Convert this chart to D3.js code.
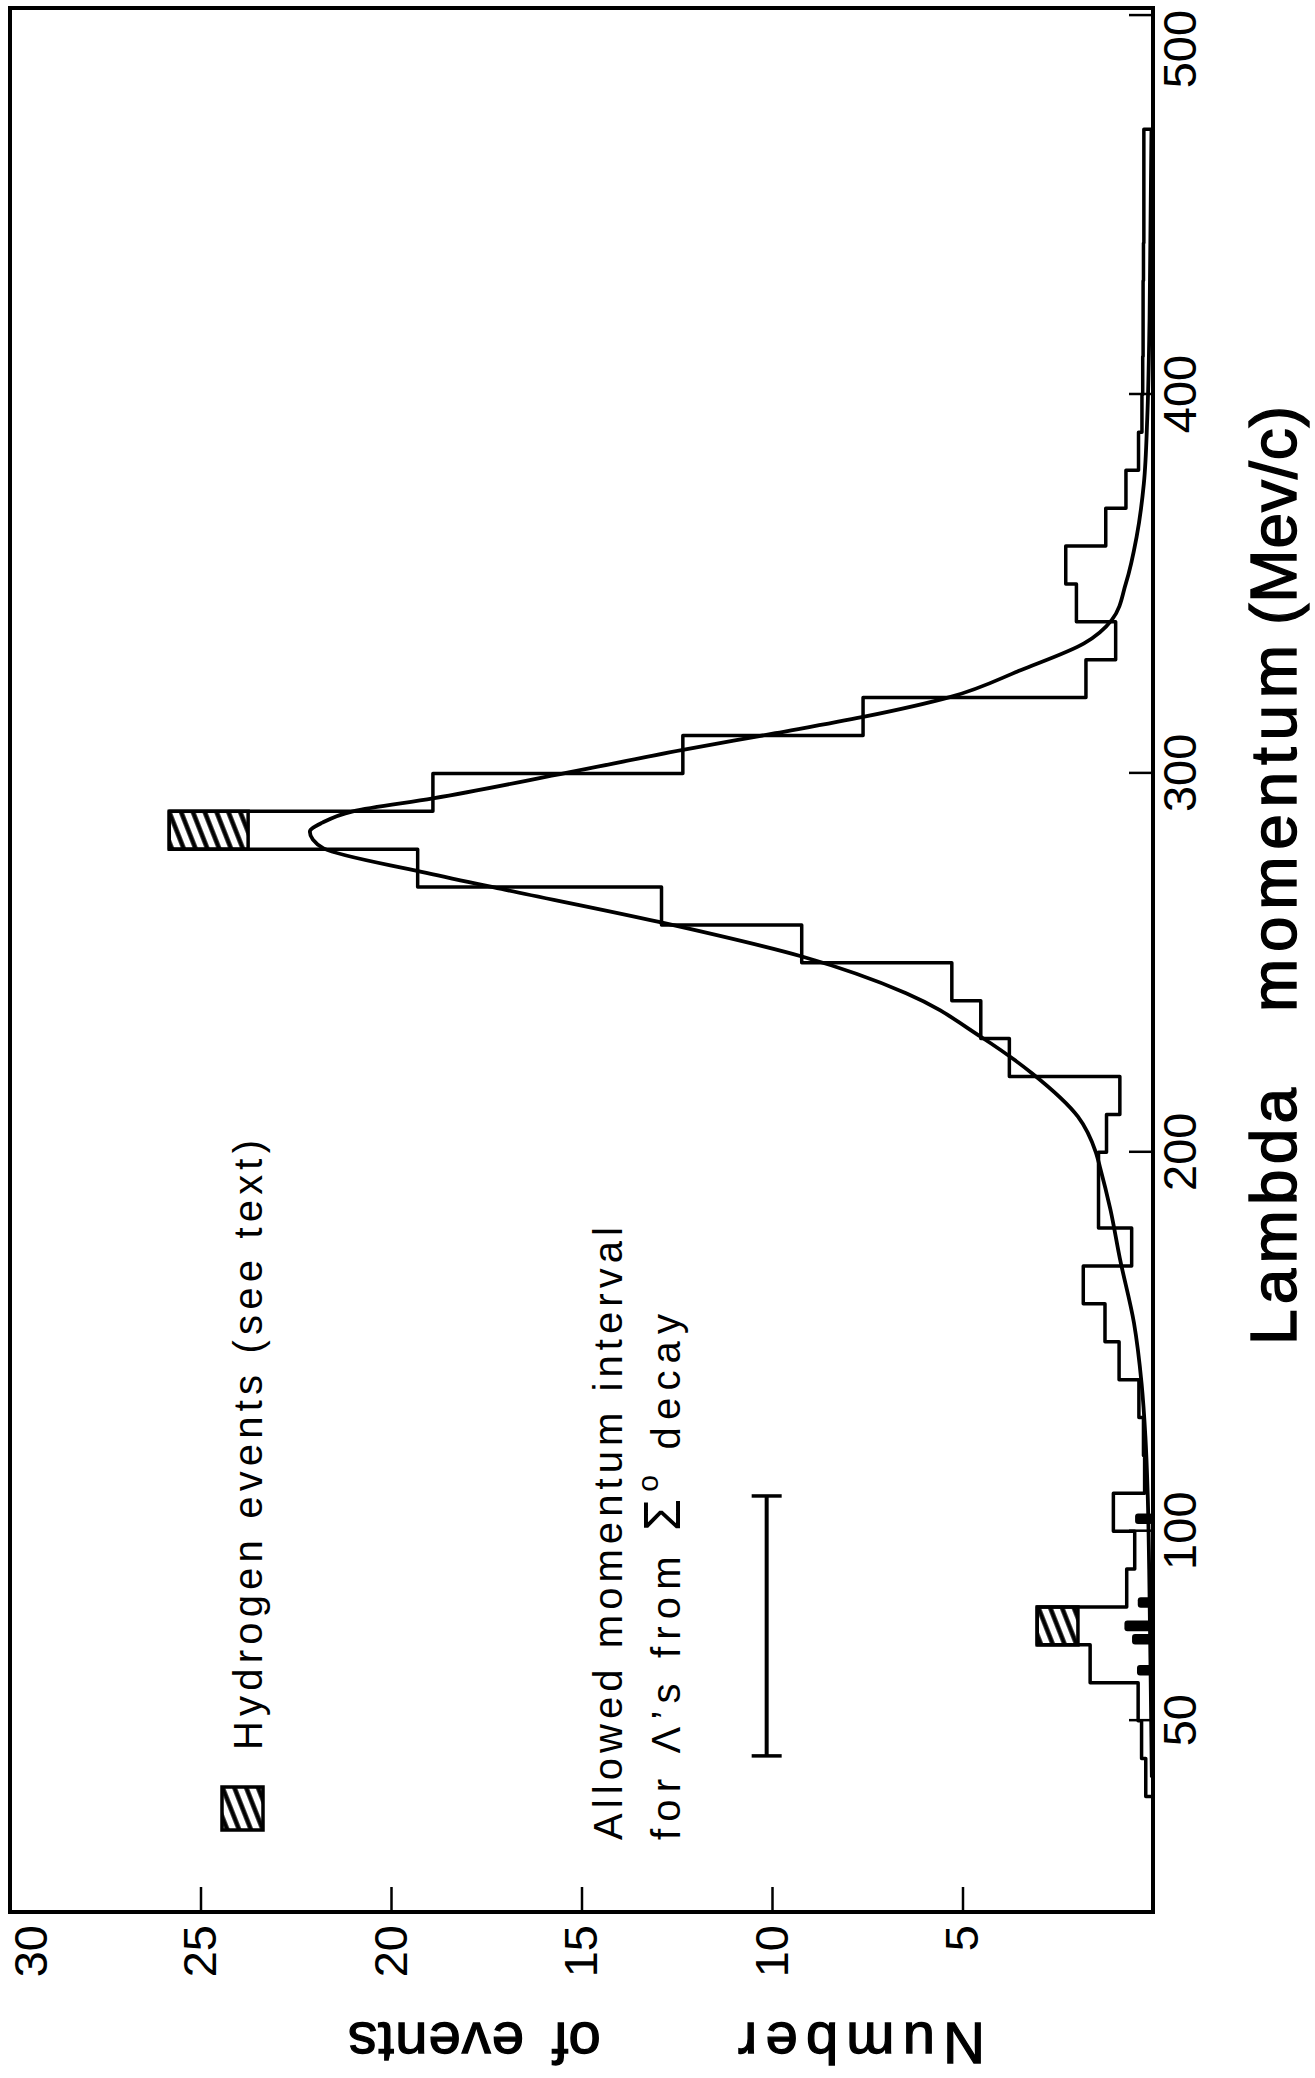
<!DOCTYPE html>
<html>
<head>
<meta charset="utf-8">
<title>Lambda momentum histogram</title>
<style>
  body { margin: 0; background: #fff; }
  text { font-family: "Liberation Sans", Arial, sans-serif; fill: #000; }
  .tick line { stroke: #000; stroke-width: 2.5px; }
  .tick text { font-size: 47px; }
</style>
</head>
<body>
<script src="https://cdn.jsdelivr.net/npm/d3@7/dist/d3.min.js"></script>
<script>
// histogram bins (lower edge, MeV/c) and total number of events per 10 MeV/c bin
const binEdges = [30, 40, 50, 60, 70, 80, 90, 100, 110, 120, 130, 140, 150, 160, 170, 180, 190, 200,
  210, 220, 230, 240, 250, 260, 270, 280, 290, 300, 310, 320, 330, 340, 350, 360, 370, 380,
  390, 400, 410, 420, 430, 440, 450, 460];
const binCounts = [0.19, 0.30, 0.39, 1.65, 3.04, 0.69, 0.48, 1.04, 0.22, 0.25, 0.37, 0.89, 1.26, 1.83,
  0.56, 1.43, 1.43, 1.22, 0.87, 3.77, 4.52, 5.28, 9.22, 12.9, 19.3, 25.82, 18.9, 12.34, 7.61,
  1.76, 0.98, 2.01, 2.29, 1.24, 0.71, 0.38, 0.29, 0.27, 0.26, 0.26, 0.25, 0.24, 0.24, 0.24];
const binWidth = 10;

// hydrogen events (hatched part, on top of the bins)
const hydrogenBins = [70, 280];
const hydrogenCounts = [1.07, 2.07];

// small dark bars close to the axis
const spikeMomenta = [63.3, 71.5, 75, 81.2, 103.3];
const spikeCounts = [0.42, 0.55, 0.75, 0.4, 0.47];

// fitted curve
const curveMomenta = [35, 60, 90, 110, 125, 139, 155, 172, 185, 196, 200, 209.4, 220.8, 230.5, 242,
  251.6, 260.8, 269.5, 274, 280.2, 282.5, 284.6, 287, 290, 293.4, 300.2, 306.2, 310.6, 314.9,
  320.2, 327.3, 334.3, 340.5, 350.2, 362.4, 376.5, 394, 420, 470];
const curveCounts = [0.03, 0.06, 0.1, 0.14, 0.2, 0.3, 0.5, 0.87, 1.12, 1.39, 1.5, 1.97, 3.17, 4.52, 6.48,
  9.19, 12.97, 17.1, 19.2, 21.77, 22.05, 22.13, 21.8, 21.0, 18.9, 15.37, 12.34, 9.91, 7.61,
  5.31, 3.46, 1.81, 1.08, 0.71, 0.43, 0.24, 0.15, 0.09, 0.04];

// allowed momentum interval for Lambdas from Sigma0 decay
const allowedInterval = [40.7, 109.3];
const intervalLevel = 10.14;

const momentumTicks = [50, 100, 200, 300, 400, 500];
const countTicks = [5, 10, 15, 20, 25, 30];

const W = 1315, H = 2078;

const svg = d3.select("body").append("svg")
  .attr("width", W)
  .attr("height", H);

// the figure is drawn as a normal chart and then turned a quarter turn
const g = svg.append("g").attr("transform", `translate(0,${H}) rotate(-90)`);

const x = d3.scaleLinear().domain([-0.5, 502]).range([166, 2070]);
const y = d3.scaleLinear().domain([0, 30]).range([1153, 10]);

const defs = svg.append("defs");
defs.append("pattern")
  .attr("id", "hatch")
  .attr("patternUnits", "userSpaceOnUse")
  .attr("width", 11)
  .attr("height", 11)
  .attr("patternTransform", "rotate(-21.5)")
  .append("line")
  .attr("x1", -2).attr("y1", 5.5)
  .attr("x2", 13).attr("y2", 5.5)
  .attr("stroke", "#000")
  .attr("stroke-width", 4.5);

// frame
g.append("rect")
  .attr("x", x.range()[0])
  .attr("y", y.range()[1])
  .attr("width", x.range()[1] - x.range()[0])
  .attr("height", y.range()[0] - y.range()[1])
  .attr("fill", "none")
  .attr("stroke", "#000")
  .attr("stroke-width", 4);

// momentum axis (right side of the page)
const xAxis = g.append("g")
  .attr("transform", `translate(0,${y(0)})`)
  .call(d3.axisBottom(x).tickValues(momentumTicks).tickSize(-24).tickPadding(10).tickFormat(d3.format("d")));
xAxis.select(".domain").remove();
// the last label sits inside the page
xAxis.selectAll(".tick").filter(d => d === 500).select("text").attr("x", -34);

// count axis (bottom of the page)
const yAxis = g.append("g")
  .attr("transform", `translate(${x.range()[0]},0)`)
  .call(d3.axisLeft(y).tickValues(countTicks).tickSize(-25).tickPadding(13));
yAxis.select(".domain").remove();
yAxis.selectAll(".tick").filter(d => d === 30).select("text").attr("y", 21);

// histogram outline
const histPoints = [[binEdges[0], 0]];
binEdges.forEach((e, i) => histPoints.push([e, binCounts[i]]));
const lastEdge = binEdges[binEdges.length - 1] + binWidth;
histPoints.push([lastEdge, binCounts[binCounts.length - 1]]);
histPoints.push([lastEdge, 0]);

g.append("path")
  .datum(histPoints)
  .attr("fill", "none")
  .attr("stroke", "#000")
  .attr("stroke-width", 3.5)
  .attr("stroke-linejoin", "round")
  .attr("d", d3.line().x(d => x(d[0])).y(d => y(d[1])).curve(d3.curveStepAfter));

// hatched hydrogen parts
g.selectAll(".hyd")
  .data(hydrogenBins)
  .join("rect")
  .attr("class", "hyd")
  .attr("x", d => x(d))
  .attr("width", d => x(d + binWidth) - x(d))
  .attr("y", d => y(binCounts[binEdges.indexOf(d)]))
  .attr("height", (d, i) => y(binCounts[binEdges.indexOf(d)] - hydrogenCounts[i]) - y(binCounts[binEdges.indexOf(d)]))
  .attr("fill", "url(#hatch)")
  .attr("stroke", "#000")
  .attr("stroke-width", 3.5);

// dark bars near the axis
g.selectAll(".spike")
  .data(spikeMomenta)
  .join("rect")
  .attr("class", "spike")
  .attr("x", d => x(d - 1.4))
  .attr("width", d => x(d + 1.4) - x(d - 1.4))
  .attr("y", (d, i) => y(spikeCounts[i]))
  .attr("height", (d, i) => y(0) - y(spikeCounts[i]))
  .attr("rx", 3)
  .attr("fill", "#000");

// fitted curve
g.append("path")
  .datum(curveMomenta.map((m, i) => [m, curveCounts[i]]))
  .attr("fill", "none")
  .attr("stroke", "#000")
  .attr("stroke-width", 3.8)
  .attr("d", d3.line().x(d => x(d[0])).y(d => y(d[1])).curve(d3.curveMonotoneX));

// allowed interval bar
const iy = y(intervalLevel);
g.append("line")
  .attr("x1", x(allowedInterval[0])).attr("x2", x(allowedInterval[1]))
  .attr("y1", iy).attr("y2", iy)
  .attr("stroke", "#000").attr("stroke-width", 4);
g.selectAll(".cap")
  .data(allowedInterval)
  .join("line")
  .attr("class", "cap")
  .attr("x1", d => x(d)).attr("x2", d => x(d))
  .attr("y1", iy - 15).attr("y2", iy + 15)
  .attr("stroke", "#000").attr("stroke-width", 3.5);

// legend
g.append("rect")
  .attr("x", 248).attr("y", 222)
  .attr("width", 43).attr("height", 41)
  .attr("fill", "url(#hatch)")
  .attr("stroke", "#000")
  .attr("stroke-width", 3.5);
g.append("text")
  .attr("x", 328).attr("y", 262)
  .attr("font-size", 40)
  .attr("textLength", 610)
  .attr("lengthAdjust", "spacing")
  .text("Hydrogen events (see text)");

// annotation
g.append("text")
  .attr("x", 238).attr("y", 622)
  .attr("font-size", 40)
  .attr("textLength", 613)
  .attr("lengthAdjust", "spacing")
  .text("Allowed momentum interval");
const t2 = g.append("text")
  .attr("x", 238).attr("y", 680)
  .attr("font-size", 40)
  .attr("textLength", 526)
  .attr("lengthAdjust", "spacing");
t2.append("tspan").text("for \u039B\u2019s from ");
t2.append("tspan").attr("font-size", 52).text("\u03A3");
t2.append("tspan").attr("font-size", 30).attr("dy", -22).text("o");
t2.append("tspan").attr("dy", 22).text(" decay");

// momentum axis title
const titleWords = [["Lambda", 733, 257], ["momentum", 1066, 367], ["(Mev/c)", 1453, 219]];
g.selectAll(".xtitle")
  .data(titleWords)
  .join("text")
  .attr("class", "xtitle")
  .attr("x", d => d[1]).attr("y", 1296)
  .attr("font-size", 64)
  .attr("stroke", "#000").attr("stroke-width", 1.4)
  .attr("textLength", d => d[2])
  .attr("lengthAdjust", "spacing")
  .text(d => d[0]);

// count axis title
const yTitleWords = [["Number", 861.5, 247], ["of", 576.5, null], ["events", 436, 176]];
const yTitle = g.selectAll(".ytitle")
  .data(yTitleWords)
  .join("text")
  .attr("class", "ytitle")
  .attr("transform", d => `translate(55,${d[1]}) rotate(-90)`)
  .attr("text-anchor", "middle")
  .attr("font-size", 58)
  .attr("stroke", "#000").attr("stroke-width", 1.3)
  .text(d => d[0]);
yTitle.filter(d => d[2])
  .attr("textLength", d => d[2])
  .attr("lengthAdjust", "spacing");
</script>
</body>
</html>
